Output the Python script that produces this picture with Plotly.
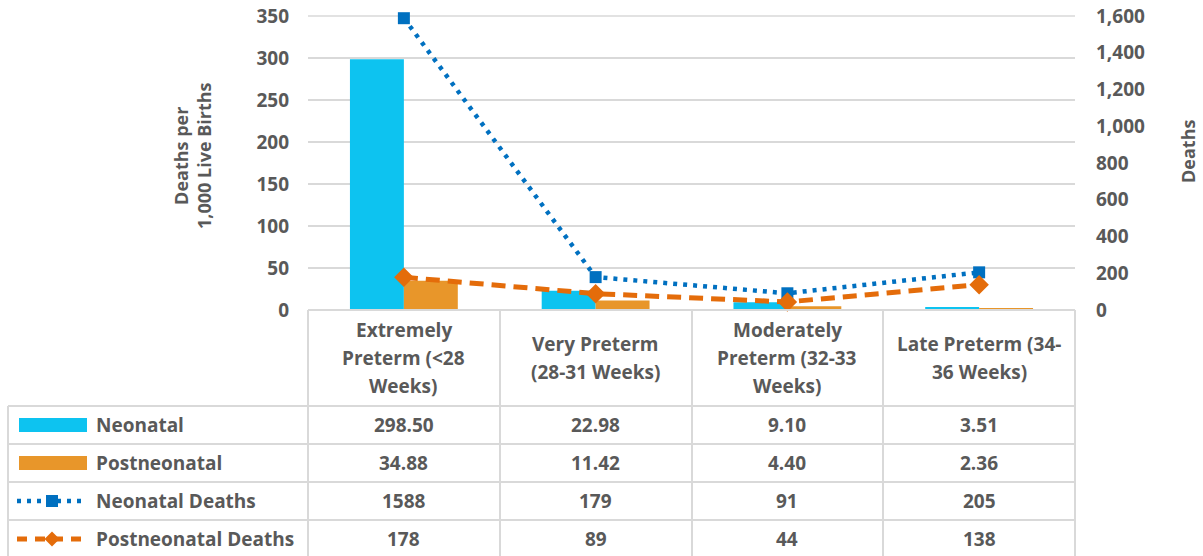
import plotly.graph_objects as go

# ---------------- data ----------------
categories = ["Extremely Preterm (<28 Weeks)", "Very Preterm (28-31 Weeks)",
              "Moderately Preterm (32-33 Weeks)", "Late Preterm (34-36 Weeks)"]
header_lines = [["Extremely", "Preterm (&lt;28", "Weeks)"],
                ["Very Preterm", "(28-31 Weeks)"],
                ["Moderately", "Preterm (32-33", "Weeks)"],
                ["Late Preterm (34-", "36 Weeks)"]]
neonatal_rate = [298.50, 22.98, 9.10, 3.51]
postneonatal_rate = [34.88, 11.42, 4.40, 2.36]
neonatal_deaths = [1588, 179, 91, 205]
postneonatal_deaths = [178, 89, 44, 138]
series_names = ["Neonatal", "Postneonatal", "Neonatal Deaths", "Postneonatal Deaths"]
left_ticks = [0, 50, 100, 150, 200, 250, 300, 350]
right_ticks = [0, 200, 400, 600, 800, 1000, 1200, 1400, 1600]

# ---------------- style ----------------
W, H = 1203, 556                          # figure size (page margin removed below)
SL, SR, ST, SB = 308, 1075, 16, 310       # plot area in pixels
C_NEO = "#0DC3F0"
C_POST = "#E8962A"
C_NEO_L = "#0070C0"
C_POST_L = "#E46C0A"
TXT = "#595959"
GRID = "#D9D9D9"
FONT = "Open Sans"
FS = 19


def py(p):
    return (SB - p) / (SB - ST)


def px(p):
    return (p - SL) / (SR - SL)


fig = go.Figure()
fig.add_bar(x=categories, y=neonatal_rate, name=series_names[0], marker_color=C_NEO,
            marker_line_width=0)
fig.add_bar(x=categories, y=postneonatal_rate, name=series_names[1], marker_color=C_POST,
            marker_line_width=0)
fig.add_scatter(x=categories, y=neonatal_deaths, name=series_names[2], yaxis="y2",
                mode="lines+markers", cliponaxis=False,
                line=dict(color=C_NEO_L, width=4.5, dash="4px,6px"),
                marker=dict(symbol="square", size=12, color=C_NEO_L))
fig.add_scatter(x=categories, y=postneonatal_deaths, name=series_names[3], yaxis="y2",
                mode="lines+markers", cliponaxis=False,
                line=dict(color=C_POST_L, width=5, dash="14px,8px"),
                marker=dict(symbol="diamond", size=15, color=C_POST_L))

shapes = []
annotations = []

# top gridline (coincides with plot edge)
shapes.append(dict(type="line", xref="paper", yref="paper", x0=0, x1=1, y0=1, y1=1,
                   layer="below", line=dict(color=GRID, width=1.5)))

# table borders
for yy in [406, 444, 482, 520]:
    shapes.append(dict(type="line", xref="paper", yref="paper", x0=px(8), x1=px(SR),
                       y0=py(yy), y1=py(yy), line=dict(color=GRID, width=2)))
shapes.append(dict(type="line", xref="paper", yref="paper", x0=0, x1=1,
                   y0=0, y1=0, line=dict(color=GRID, width=2)))
for xx in [308, 500, 692, 883, 1075]:
    shapes.append(dict(type="line", xref="paper", yref="paper", x0=px(xx), x1=px(xx),
                       y0=py(310), y1=py(560), line=dict(color=GRID, width=2)))
shapes.append(dict(type="line", xref="paper", yref="paper", x0=px(8), x1=px(8),
                   y0=py(406), y1=py(560), line=dict(color=GRID, width=2)))

# header text (one annotation per line, Excel spacing)
for cat, lines in zip(categories, header_lines):
    n = len(lines)
    for i, ln in enumerate(lines):
        yc = 358 + (i - (n - 1) / 2) * 28
        annotations.append(dict(xref="x", yref="paper", x=cat, y=py(yc), text=ln,
                                showarrow=False, xanchor="center", yanchor="middle",
                                font=dict(family=FONT, size=FS, color=TXT, weight="bold")))

# table values
row_centers = [425, 463, 501, 539]
rows = [[f"{v:.2f}" for v in neonatal_rate],
        [f"{v:.2f}" for v in postneonatal_rate],
        [f"{v:d}" for v in neonatal_deaths],
        [f"{v:d}" for v in postneonatal_deaths]]
for yc, vals, name in zip(row_centers, rows, series_names):
    for cat, v in zip(categories, vals):
        annotations.append(dict(xref="x", yref="paper", x=cat, y=py(yc), text=v,
                                showarrow=False, xanchor="center", yanchor="middle",
                                font=dict(family=FONT, size=FS, color=TXT, weight="bold")))
    annotations.append(dict(xref="paper", yref="paper", x=px(94), y=py(yc), text=name,
                            showarrow=False, xanchor="left", yanchor="middle",
                            font=dict(family=FONT, size=FS, color=TXT, weight="bold")))

# legend keys
shapes.append(dict(type="rect", xref="paper", yref="paper", x0=px(19), x1=px(87),
                   y0=py(418), y1=py(432), fillcolor=C_NEO, line_width=0))
shapes.append(dict(type="rect", xref="paper", yref="paper", x0=px(19), x1=px(87),
                   y0=py(456), y1=py(470), fillcolor=C_POST, line_width=0))
shapes.append(dict(type="line", xref="paper", yref="paper", x0=px(17), x1=px(85),
                   y0=py(501), y1=py(501), line=dict(color=C_NEO_L, width=4.5, dash="4px,6px")))
shapes.append(dict(type="rect", xref="paper", yref="paper", x0=px(46), x1=px(58),
                   y0=py(495), y1=py(507), fillcolor=C_NEO_L, line_width=0))
shapes.append(dict(type="line", xref="paper", yref="paper", x0=px(17), x1=px(83),
                   y0=py(539), y1=py(539), line=dict(color=C_POST_L, width=5, dash="10px,8px")))
cx, cy, d = 52, 539, 7.5
shapes.append(dict(type="path", xref="paper", yref="paper",
                   path=f"M {px(cx)},{py(cy - d)} L {px(cx + d)},{py(cy)} L {px(cx)},{py(cy + d)} L {px(cx - d)},{py(cy)} Z",
                   fillcolor=C_POST_L, line_width=0))

# axis titles
annotations.append(dict(xref="paper", yref="paper", x=px(192), y=py(156),
                        text="Deaths per<br>1,000 Live Births", textangle=-90,
                        showarrow=False, xanchor="center", yanchor="middle",
                        font=dict(family=FONT, size=FS - 1, color=TXT, weight="bold")))
annotations.append(dict(xref="paper", yref="paper", x=px(1188), y=py(152),
                        text="Deaths", textangle=-90,
                        showarrow=False, xanchor="center", yanchor="middle",
                        font=dict(family=FONT, size=FS - 1, color=TXT, weight="bold")))

fig.update_layout(
    width=W, height=H,
    margin=dict(l=SL, r=W - SR, t=ST, b=H - SB, pad=0, autoexpand=False),
    paper_bgcolor="white", plot_bgcolor="white",
    barmode="group", bargap=0.4375, bargroupgap=0,
    showlegend=False,
    xaxis=dict(showticklabels=False, showgrid=False, zeroline=False, showline=False,
               ticks="", automargin=False),
    yaxis=dict(range=[0, 350], tickvals=left_ticks, showgrid=True, gridcolor=GRID,
               gridwidth=1.5, zeroline=False, showline=False, ticks="",
               ticklabelstandoff=18, automargin=False, ticklabeloverflow="allow",
               tickfont=dict(family=FONT, size=FS, color=TXT, weight="bold")),
    yaxis2=dict(range=[0, 1600], tickvals=right_ticks, tickformat=",", overlaying="y",
                side="right", showgrid=False, zeroline=False, showline=False, ticks="",
                ticklabelstandoff=20, automargin=False, ticklabeloverflow="allow",
                tickfont=dict(family=FONT, size=FS, color=TXT, weight="bold")),
    shapes=shapes, annotations=annotations,
)

fig.write_html("out.html",
               config={"displayModeBar": False},
               post_script="document.body.style.margin='0px';"
                           "document.body.style.overflow='hidden';")
